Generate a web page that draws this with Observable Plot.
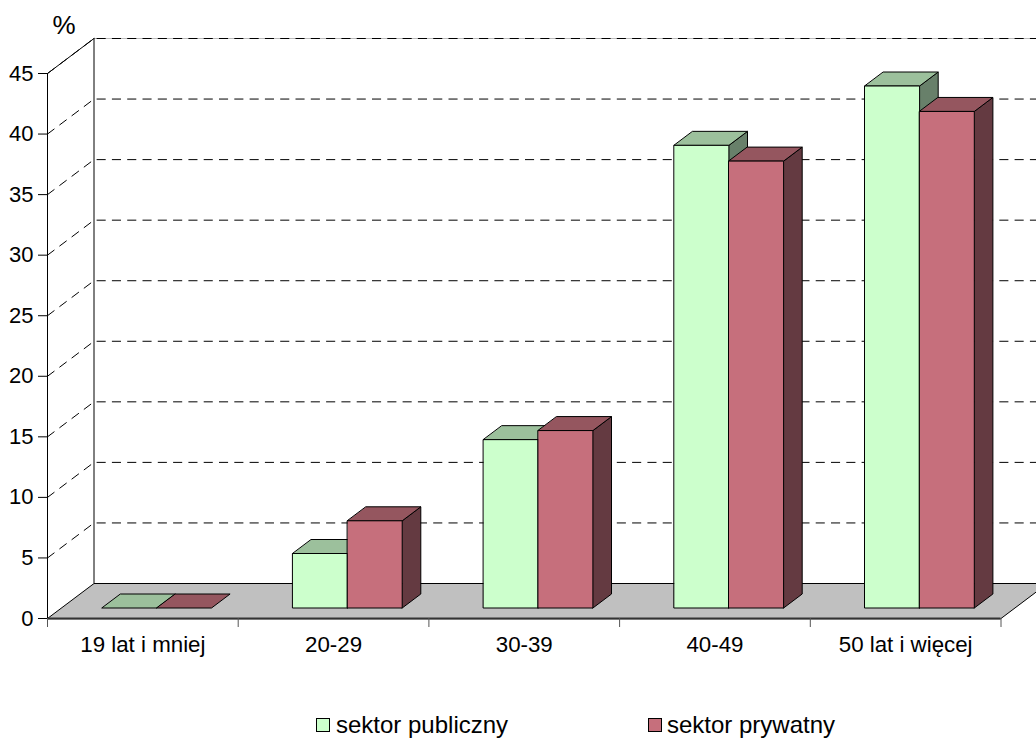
<!DOCTYPE html>
<html lang="pl">
<head>
<meta charset="utf-8">
<style>
html,body{margin:0;padding:0;background:#fff;width:1036px;height:740px;overflow:hidden;font-family:"Liberation Sans",Arial,sans-serif}
#legend{position:relative;height:40px;font-size:24px;color:#000}
#legend span{position:absolute;top:13px;line-height:24px;white-space:nowrap}
#legend i{position:absolute;top:18px;width:12px;height:12px;border:1px solid #000;box-sizing:content-box}
</style>
</head>
<body>
<div id="chart"></div>
<div id="legend"></div>
<script src="https://cdn.jsdelivr.net/npm/d3@7"></script>
<script src="https://cdn.jsdelivr.net/npm/@observablehq/plot@0.6"></script>
<script>
const categories = ["19 lat i mniej", "20-29", "30-39", "40-49", "50 lat i więcej"];
const seriesNames = ["sektor publiczny", "sektor prywatny"];
const publicValues = [0, 4.5, 13.9, 38.2, 43.1];
const privateValues = [0, 7.2, 14.65, 36.9, 41.0];
const yTicks = [0, 5, 10, 15, 20, 25, 30, 35, 40, 45];
const gridValues = [5, 10, 15, 20, 25, 30, 35, 40, 45];

// Shaded colours of every bar: front, top, side.
const shades = {
  "sektor publiczny": {front: "#ccffcc", top: "#9cc09c", side: "#68806a"},
  "sektor prywatny": {front: "#c66f7c", top: "#95565f", side: "#643a41"}
};

// Oblique projection: scale units per unit of depth.
const xPx = (1000.5 - 47) / 5, yPx = 545 / 45;
const DX = 46.5 / xPx, DY = 35 / yPx;
const px = (x, d) => x + d * DX;
const py = (y, d) => y + d * DY;
const pt = (x, y, d, id, fill) => ({x: px(x, d), y: py(y, d), id, fill});

const W = 54.7 / xPx;              // bar width
const D0 = 0.3, D1 = 0.7;          // bar's depth span in the floor

const faces = [];
[publicValues, privateValues].forEach((vals, s) => {
  const c = shades[seriesNames[s]];
  vals.forEach((v, i) => {
    const x0 = i + 0.5 + (s - 1) * W;
    const x1 = x0 + W;
    const id = i + "-" + s;
    if (v > 0) {
      faces.push(pt(x1, 0, D0, id + "s", c.side), pt(x1, 0, D1, id + "s", c.side),
                 pt(x1, v, D1, id + "s", c.side), pt(x1, v, D0, id + "s", c.side));
    }
    faces.push(pt(x0, v, D0, id + "t", c.top), pt(x1, v, D0, id + "t", c.top),
               pt(x1, v, D1, id + "t", c.top), pt(x0, v, D1, id + "t", c.top));
    if (v > 0) {
      faces.push(pt(x0, 0, D0, id + "f", c.front), pt(x1, 0, D0, id + "f", c.front),
                 pt(x1, v, D0, id + "f", c.front), pt(x0, v, D0, id + "f", c.front));
    }
  });
});

const floor = [[0, 0], [0, 1], [5, 1], [5, 0]].map(([x, d]) => ({x: px(x, d), y: py(0, d)}));
const gridLines = gridValues.flatMap(v => [[0, 0], [0, 1], [5, 1]].map(([x, d]) => ({x: px(x, d), y: py(v, d), v})));

const plot = Plot.plot({
  width: 1036, height: 700,
  marginTop: 0, marginRight: 0, marginBottom: 0, marginLeft: 0,
  style: {fontFamily: '"Liberation Sans", Arial, sans-serif', background: "#fff", color: "#000"},
  x: {domain: [0, 5], range: [47, 1000.5], axis: null},
  y: {domain: [0, 45], range: [618, 73], axis: null},
  color: {type: "identity"},
  marks: [
    // floor
    Plot.line(floor, {x: "x", y: "y", curve: "linear-closed", fill: "#c0c0c0", stroke: "#000", strokeWidth: 1}),
    // grey line under the dashes of the wall's top edge
    Plot.ruleY([py(45, 1)], {x1: px(0, 1), x2: px(5, 1), stroke: "#bbb", strokeWidth: 1}),
    // dashed grid on side + back wall
    Plot.line(gridLines, {x: "x", y: "y", z: "v", stroke: "#000", strokeWidth: 1, strokeDasharray: "8.3,7"}),
    // solid top-left edge
    Plot.line([{x: px(0, 0), y: 45}, {x: px(0, 1), y: py(45, 1)}], {x: "x", y: "y", stroke: "#000", strokeWidth: 1}),
    // back vertical edge
    Plot.ruleX([px(0, 1)], {y1: py(0, 1), y2: py(45, 1), stroke: "#000", strokeWidth: 1}),
    // front bottom edge
    Plot.ruleY([0], {x1: 0, x2: 5, stroke: "#333", strokeWidth: 2}),
    // bars
    Plot.line(faces, {x: "x", y: "y", z: "id", fill: "fill", stroke: "#000", strokeWidth: 1, curve: "linear-closed"}),
    // y axis
    Plot.ruleX([0], {y1: 0, y2: 45, stroke: "#000", strokeWidth: 1}),
    Plot.axisY(yTicks, {anchor: "left", x: 0, tickSize: 9, tickPadding: 5, fontSize: 22, label: null, tickFormat: d => d, stroke: "#000", strokeWidth: 1}),
    // x axis
    Plot.axisX([0, 1, 2, 3, 4, 5], {anchor: "bottom", y: 0, tickSize: 9, tickFormat: () => "", label: null, stroke: "#555", strokeWidth: 1}),
    Plot.axisX([0.5, 1.5, 2.5, 3.5, 4.5], {anchor: "bottom", y: 0, tickSize: 0, tickPadding: 18, fontSize: 22.3, label: null, tickFormat: d => categories[d - 0.5]}),
    // unit
    Plot.text(["%"], {frameAnchor: "top-left", dx: 52, dy: 15, fontSize: 26, text: d => d})
  ]
});
document.getElementById("chart").appendChild(plot);

const legend = document.getElementById("legend");
[[316, 336], [648, 667]].forEach(([sx, tx], i) => {
  const sw = document.createElement("i");
  sw.style.left = sx + "px";
  sw.style.background = shades[seriesNames[i]].front;
  const label = document.createElement("span");
  label.style.left = tx + "px";
  label.textContent = seriesNames[i];
  legend.append(sw, label);
});
</script>
</body>
</html>
